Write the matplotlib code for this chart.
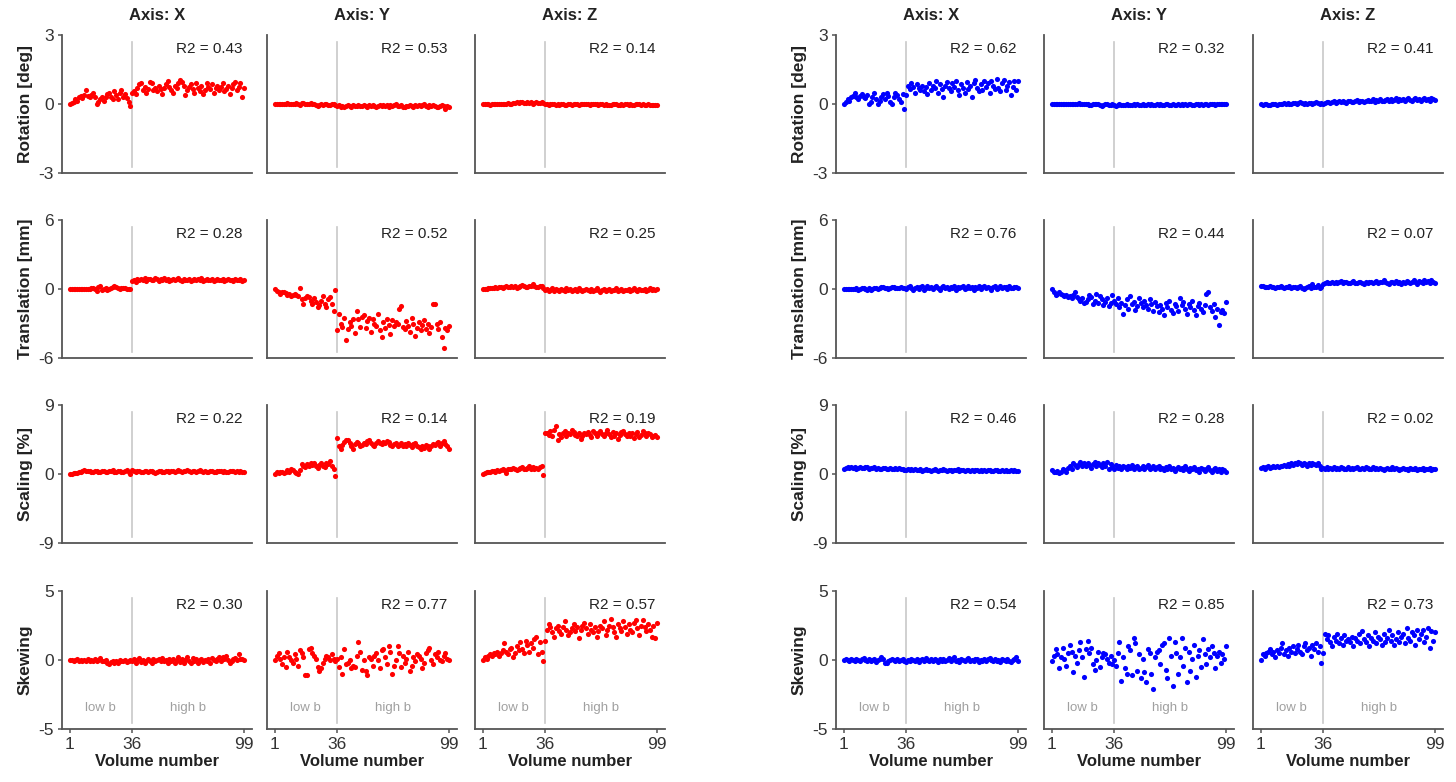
import numpy as np
import matplotlib
matplotlib.use("Agg")
import matplotlib.pyplot as plt

plt.rcParams['font.family'] = ['Liberation Sans', 'DejaVu Sans']

# ---------------------------------------------------------------
# Data: one list per panel, volumes 1..99 (low b = 1..35, high b = 36..99)
# ---------------------------------------------------------------
axis_names = ['X', 'Y', 'Z']
row_labels = ['Rotation [deg]', 'Translation [mm]', 'Scaling [%]', 'Skewing']
row_limits = [3, 6, 9, 5]
split_vol = 36

red_r2 = [[0.43, 0.53, 0.14], [0.28, 0.52, 0.25], [0.22, 0.14, 0.19], [0.30, 0.77, 0.57]]
blue_r2 = [[0.62, 0.32, 0.41], [0.76, 0.44, 0.07], [0.46, 0.28, 0.02], [0.54, 0.85, 0.73]]

# ---- red (left) ----
red_rot_x = [0.0, 0.05, 0.1, 0.2, 0.15, 0.3, 0.35, 0.25, 0.4, 0.6,
             0.35, 0.3, 0.4, 0.5, 0.3, 0.0, 0.1, 0.2, 0.3, 0.15,
             0.3, 0.45, 0.5, 0.3, 0.2, 0.55, 0.4, 0.2, 0.5, 0.6,
             0.3, 0.45, 0.25, 0.1, -0.1, 0.5, 0.55, 0.45, 0.7, 0.85,
             0.9, 0.6, 0.75, 0.5, 0.65, 0.95, 0.9, 0.6, 0.7, 0.55,
             0.8, 0.65, 0.45, 0.7, 0.85, 1.0, 0.75, 0.6, 0.5, 0.8,
             0.7, 0.9, 1.05, 0.95, 0.8, 0.4, 0.6, 0.75, 0.85, 0.65,
             0.5, 0.9, 0.7, 0.55, 0.8, 0.45, 0.6, 0.9, 0.75, 0.65,
             0.85, 0.5, 0.7, 0.8, 0.6, 0.75, 0.9, 0.55, 0.65, 0.8,
             0.45, 0.7, 0.85, 0.95, 0.6, 0.75, 0.9, 0.3, 0.7]
red_rot_y = [0.0, 0.0, 0.0, 0.02, 0.0, -0.02, 0.0, 0.03, 0.0, -0.02,
             0.0, 0.02, 0.05, 0.0, -0.03, 0.03, 0.05, 0.02, 0.0, -0.02,
             0.04, 0.02, -0.02, -0.05, -0.08, -0.04, -0.02, -0.03, 0.0, -0.02,
             -0.04, -0.03, -0.02, 0.0, -0.05, -0.1, -0.05, -0.15, -0.08, -0.12,
             -0.1, -0.05, -0.08, -0.12, -0.06, -0.1, -0.08, -0.05, -0.1, -0.07,
             -0.04, -0.08, -0.12, -0.06, -0.1, -0.05, -0.08, -0.13, -0.07, -0.05,
             -0.1, -0.03, -0.08, -0.06, -0.12, -0.04, -0.09, -0.05, 0.0, -0.08,
             -0.1, -0.06, -0.12, -0.14, -0.08, -0.1, -0.05, -0.09, -0.12, -0.06,
             -0.08, -0.04, -0.1, -0.06, 0.0, -0.08, -0.12, -0.06, -0.1, -0.03,
             -0.08, -0.12, -0.15, -0.1, -0.05, -0.08, -0.2, -0.1, -0.12]
red_rot_z = [0.0, 0.0, -0.02, 0.0, -0.03, 0.0, -0.02, 0.0, 0.02, -0.02,
             0.0, -0.02, 0.02, 0.0, 0.03, 0.0, 0.02, 0.05, 0.03, 0.08,
             0.05, 0.1, 0.08, 0.05, 0.03, 0.07, 0.05, 0.08, 0.02, 0.05,
             0.08, 0.03, 0.05, 0.1, 0.05, 0.0, -0.02, -0.03, -0.02, 0.0,
             -0.02, -0.04, -0.02, -0.03, 0.0, -0.02, -0.04, -0.03, -0.02, 0.0,
             -0.03, -0.02, 0.0, -0.02, -0.04, -0.02, 0.0, 0.02, -0.02, 0.0,
             -0.03, -0.02, 0.0, 0.02, -0.02, -0.04, -0.02, 0.0, -0.03, -0.02,
             -0.05, -0.06, -0.03, -0.02, 0.0, -0.02, -0.04, -0.05, -0.02, -0.03,
             0.0, -0.02, -0.04, -0.02, -0.05, -0.03, -0.02, 0.0, -0.02, -0.04,
             -0.02, -0.05, -0.03, -0.02, -0.04, -0.06, -0.03, -0.05, -0.06]
red_trans_x = [0.0, 0.0, 0.02, 0.0, -0.02, 0.0, 0.0, 0.02, 0.0, 0.0,
               -0.02, 0.0, 0.05, 0.1, 0.0, -0.2, 0.15, 0.25, -0.1, 0.0,
               0.05, -0.05, 0.0, 0.1, 0.2, 0.3, 0.15, 0.1, 0.0, 0.05,
               0.1, 0.05, 0.0, 0.02, 0.0, 0.7, 0.8, 0.6, 0.9, 0.75,
               0.85, 0.8, 0.95, 0.7, 0.85, 0.9, 0.75, 0.8, 1.0, 0.85,
               0.7, 0.9, 0.8, 0.95, 0.75, 0.85, 0.7, 0.8, 0.9, 0.75,
               0.85, 1.0, 0.8, 0.7, 0.9, 0.8, 0.75, 0.85, 0.7, 0.8,
               0.9, 0.75, 0.85, 0.8, 0.95, 0.7, 0.8, 0.9, 0.75, 0.8,
               0.85, 0.7, 0.8, 0.9, 0.75, 0.8, 0.85, 0.7, 0.8, 0.9,
               0.75, 0.8, 0.7, 0.85, 0.8, 0.75, 0.9, 0.7, 0.75]
red_trans_y = [0.0, -0.2, -0.3, -0.4, -0.3, -0.3, -0.35, -0.5, -0.4, -0.6,
               -0.55, -0.45, -0.5, -0.6, 0.05, -0.9, -1.3, -0.75, -0.6, -0.7,
               -1.0, -1.3, -0.8, -1.1, -1.6, -1.4, -1.0, -0.6, -1.3, -1.6,
               -0.9, -0.7, -1.3, -1.9, -0.1, -3.6, -2.2, -3.0, -3.3, -2.5,
               -4.4, -3.5, -2.9, -3.2, -2.6, -3.8, -1.9, -2.6, -3.3, -2.4,
               -2.3, -3.4, -2.8, -2.5, -3.7, -2.6, -3.0, -3.2, -2.2, -3.6,
               -4.2, -2.9, -3.4, -2.6, -3.1, -3.9, -2.7, -3.2, -2.9, -3.0,
               -1.7, -1.5, -3.3, -3.5, -2.8, -3.2, -3.7, -2.5, -3.0, -4.1,
               -3.4, -2.9, -3.6, -3.1, -2.7, -3.5, -3.0, -3.8, -3.3, -1.3,
               -1.3, -3.0, -3.5, -2.9, -4.2, -5.1, -3.4, -3.6, -3.2]
red_trans_z = [0.0, 0.02, 0.0, 0.05, 0.1, 0.05, 0.1, 0.15, 0.1, 0.2,
               0.15, 0.1, 0.2, 0.25, 0.15, 0.2, 0.3, 0.2, 0.25, 0.1,
               0.2, 0.3, 0.35, 0.25, 0.2, 0.15, 0.3, 0.25, 0.4, 0.3,
               0.2, 0.15, 0.3, 0.25, 0.1, -0.1, 0.0, -0.2, -0.1, 0.05,
               -0.15, 0.0, -0.1, -0.2, 0.0, -0.05, -0.15, 0.1, -0.1, 0.0,
               -0.2, -0.1, 0.0, -0.15, 0.05, -0.1, -0.2, -0.05, 0.0, -0.1,
               -0.15, 0.0, -0.2, -0.1, 0.05, -0.1, -0.25, -0.05, 0.0, -0.15,
               -0.1, 0.0, -0.2, -0.05, -0.1, 0.05, -0.15, -0.1, 0.0, -0.2,
               -0.05, -0.1, 0.0, -0.15, -0.1, 0.05, -0.1, -0.2, 0.0, -0.05,
               -0.1, 0.0, -0.15, -0.05, 0.1, -0.1, 0.0, -0.05, 0.0]
red_scal_x = [0.0, 0.05, 0.1, 0.15, 0.1, 0.2, 0.3, 0.4, 0.5, 0.45,
              0.4, 0.35, 0.3, 0.2, 0.35, 0.4, 0.3, 0.25, 0.35, 0.4,
              0.3, 0.2, 0.35, 0.4, 0.5, 0.3, 0.2, 0.35, 0.4, 0.3,
              0.2, 0.45, 0.5, 0.3, 0.0, 0.5, 0.35, 0.3, 0.4, 0.45,
              0.3, 0.2, 0.4, 0.35, 0.3, 0.45, 0.4, 0.3, 0.1, 0.3,
              0.35, 0.4, 0.3, 0.25, 0.4, 0.35, 0.3, 0.45, 0.4, 0.3,
              0.35, 0.5, 0.4, 0.3, 0.35, 0.45, 0.55, 0.4, 0.3, 0.35,
              0.4, 0.3, 0.45, 0.5, 0.35, 0.3, 0.4, 0.25, 0.3, 0.35,
              0.4, 0.3, 0.2, 0.35, 0.45, 0.4, 0.3, 0.35, 0.25, 0.3,
              0.4, 0.45, 0.35, 0.3, 0.4, 0.3, 0.35, 0.3, 0.2]
red_scal_y = [0.0, 0.2, 0.1, 0.3, 0.2, 0.1, 0.3, 0.5, 0.3, 0.6,
              0.5, 0.3, 0.1, 0.0, 0.5, 1.3, 1.0, 0.9, 1.3, 1.1,
              1.5, 1.2, 1.4, 1.0, 0.8, 1.2, 1.4, 1.1, 0.9, 1.5,
              1.3, 1.7, 1.0, 0.6, -0.2, 4.7, 3.6, 3.3, 3.8, 4.2,
              4.4, 4.5, 4.1, 3.7, 3.3, 3.9, 4.2, 4.0, 3.6, 3.8,
              4.1, 3.9, 4.3, 4.5, 4.0, 3.8, 3.7, 4.1, 4.3, 4.0,
              3.9, 4.2, 4.0, 4.3, 4.2, 3.8, 3.6, 3.9, 4.0, 3.7,
              3.8, 4.0, 3.6, 3.9, 3.7, 4.0, 3.8, 3.5, 3.9, 4.1,
              3.7, 3.5, 3.2, 3.6, 3.4, 3.8, 3.6, 3.3, 3.7, 3.9,
              3.8, 4.0, 4.2, 3.7, 4.1, 4.3, 3.9, 3.6, 3.3]
red_scal_z = [0.0, 0.1, 0.2, 0.3, 0.3, 0.4, 0.4, 0.3, 0.5, 0.4,
              0.5, 0.6, 0.5, 0.1, 0.6, 0.7, 0.6, 0.8, 0.6, 0.5,
              0.7, 0.8, 0.9, 0.7, 0.6, 0.8, 1.0, 0.7, 0.9, 0.6,
              0.8, 0.7, 0.9, 1.0, -0.1, 5.3, 5.4, 5.1, 5.6, 5.0,
              5.8, 6.2, 4.5, 5.2, 4.8, 5.3, 5.6, 5.0, 5.4, 5.2,
              5.7, 5.5, 5.1, 4.9, 5.3, 4.6, 5.0, 5.4, 5.2, 5.5,
              5.1, 4.8, 5.6, 5.3, 5.0, 5.4, 5.6, 5.2, 4.9, 5.3,
              5.7, 5.2, 4.8, 5.5, 5.0, 5.3, 4.6, 5.1, 5.5, 5.6,
              5.2, 4.9, 5.4, 5.0, 5.3, 4.7, 5.2, 5.5, 4.8, 5.1,
              5.6, 5.3, 4.9, 5.4, 5.2, 4.8, 5.0, 5.1, 4.8]
red_skew_x = [0.0, 0.0, -0.05, 0.0, 0.05, -0.05, 0.0, -0.1, 0.0, -0.05,
              0.1, -0.1, 0.0, -0.05, 0.05, -0.1, 0.0, 0.15, -0.05, -0.1,
              0.0, -0.2, -0.3, -0.15, -0.05, -0.2, -0.1, -0.25, 0.0, -0.1,
              -0.05, 0.0, -0.15, -0.05, 0.0, -0.1, 0.05, -0.2, 0.0, 0.15,
              -0.15, 0.0, -0.25, -0.1, 0.05, -0.05, -0.2, 0.1, -0.1, 0.0,
              0.05, -0.1, 0.15, -0.05, 0.0, -0.2, 0.1, -0.1, 0.05, -0.25,
              0.0, 0.2, -0.15, 0.1, -0.2, 0.0, 0.25, -0.05, -0.2, 0.15,
              -0.1, 0.05, -0.25, 0.0, 0.1, -0.15, 0.0, -0.05, 0.1, -0.2,
              0.15, 0.0, -0.1, 0.05, 0.2, -0.05, 0.25, 0.1, 0.3, 0.0,
              -0.2, -0.1, 0.05, 0.15, 0.0, 0.4, 0.1, 0.05, 0.0]
red_skew_y = [0.0, 0.3, 0.5, 0.1, -0.3, 0.2, -0.5, 0.6, 0.2, 0.0,
              -0.2, 0.4, 0.1, -0.4, 0.7, 0.5, 0.2, -1.1, -1.1, 0.8,
              0.9, 0.5, 0.3, 0.1, -0.5, -0.8, -0.6, -0.2, 0.1, 0.3,
              0.2, 0.0, 0.4, 0.1, -0.1, 0.1, -0.5, 0.2, -1.0, 0.8,
              -0.3, -0.2, 0.0, -0.6, -0.4, -0.5, 0.3, 1.3, 0.6, -0.7,
              0.0, -0.8, -1.1, 0.2, 0.1, -0.4, 0.3, 0.5, 0.0, -0.6,
              0.7, 0.8, 0.2, -0.3, 1.0, 0.6, -1.0, -0.4, 0.0, 1.0,
              0.5, -0.5, 0.3, -0.2, 0.1, 0.6, -0.8, -0.4, 0.2, -0.1,
              0.4, 0.3, 0.1, -0.6, -0.2, 0.5, 0.7, 0.9, 0.0, -0.3,
              0.4, 0.2, 0.6, 0.0, -0.1, 0.3, 0.5, 0.1, 0.0]
red_skew_z = [0.0, 0.2, 0.1, 0.3, 0.4, 0.3, 0.5, 0.4, 0.6, 0.3,
              0.5, 0.7, 1.2, 0.6, 0.4, 0.8, 0.9, 0.2, 0.5, 1.0,
              0.7, 1.3, 0.8, 0.5, 1.4, 1.1, 0.6, 1.2, 0.9, 1.5,
              1.7, 0.4, 1.3, 0.6, -0.1, 1.4, 2.2, 2.6, 2.4, 2.0,
              1.7, 2.3, 2.5, 2.1, 1.9, 2.4, 2.8, 2.2, 1.8, 2.0,
              2.3, 2.6, 2.1, 2.4, 1.6, 2.2, 2.5, 2.7, 2.3, 1.9,
              2.6, 2.2, 2.0, 2.4, 1.7, 2.1, 2.5, 2.3, 2.8, 1.8,
              2.2, 2.5, 3.0, 2.4, 2.0, 1.7, 2.6, 2.3, 2.1, 2.8,
              2.4, 1.9, 2.6, 2.2, 2.0, 2.7, 2.9, 2.3, 1.8, 2.5,
              2.9, 2.4, 2.1, 2.6, 2.2, 1.7, 2.5, 1.6, 2.7]

# ---- blue (right) ----
blue_rot_x = [0.0, 0.1, 0.2, 0.15, 0.3, 0.35, 0.5, 0.3, 0.2, 0.35,
              0.45, 0.3, 0.25, 0.4, 0.0, 0.1, 0.3, 0.5, 0.2, 0.0,
              0.15, 0.3, 0.45, 0.2, 0.5, 0.35, 0.1, 0.0, 0.3, 0.5,
              0.4, 0.2, 0.1, 0.45, -0.2, 0.4, 0.8, 0.65, 0.9, 0.75,
              0.5, 0.85, 0.7, 0.6, 0.8, 0.55, 0.75, 0.45, 0.9, 0.6,
              0.8, 0.7, 1.0, 0.5, 0.85, 0.65, 0.3, 0.8, 0.95, 0.7,
              0.55, 0.9, 0.75, 1.0, 0.6, 0.4, 0.85, 0.7, 0.5, 0.95,
              0.65, 0.8, 0.3, 0.9, 1.05, 0.7, 0.55, 0.85, 0.6, 1.0,
              0.75, 0.9, 0.5, 1.0, 0.8, 0.65, 1.1, 0.7, 0.55, 0.9,
              1.05, 0.6, 0.8, 0.95, 0.4, 0.75, 1.0, 0.6, 1.0]
blue_rot_y = [0.0, 0.0, 0.02, 0.0, -0.02, 0.0, 0.02, 0.0, -0.02, 0.0,
              0.02, 0.0, -0.02, 0.0, 0.02, 0.03, 0.0, -0.02, 0.0, 0.02,
              0.0, -0.03, -0.05, -0.02, 0.0, 0.02, -0.02, -0.05, -0.08, -0.05,
              -0.02, 0.0, -0.03, -0.05, -0.02, -0.05, -0.08, -0.04, -0.02, -0.06,
              -0.03, -0.05, -0.02, -0.04, -0.06, -0.03, 0.0, -0.04, -0.02, -0.05,
              -0.03, -0.01, -0.04, -0.06, -0.02, -0.04, 0.0, -0.03, -0.05, -0.02,
              -0.04, -0.01, -0.03, -0.05, -0.02, 0.0, -0.03, -0.04, -0.01, -0.03,
              -0.05, -0.02, -0.04, 0.0, -0.03, -0.01, -0.04, -0.02, 0.0, -0.03,
              -0.05, -0.02, 0.0, -0.03, -0.01, -0.04, -0.02, 0.0, -0.03, -0.01,
              -0.02, 0.0, -0.03, -0.01, -0.02, 0.0, 0.02, -0.01, 0.0]
blue_rot_z = [0.0, -0.05, -0.02, 0.0, -0.05, -0.03, 0.0, -0.02, 0.02, -0.03,
              0.0, 0.02, -0.02, 0.03, 0.0, 0.05, 0.02, 0.0, 0.05, 0.03,
              0.0, 0.05, 0.08, 0.03, 0.0, 0.05, 0.02, 0.06, 0.03, 0.0,
              0.05, 0.08, 0.05, 0.02, 0.05, 0.0, 0.05, 0.08, 0.1, 0.05,
              0.08, 0.12, 0.06, 0.1, 0.15, 0.08, 0.12, 0.1, 0.05, 0.12,
              0.15, 0.1, 0.08, 0.13, 0.18, 0.1, 0.15, 0.12, 0.08, 0.14,
              0.18, 0.12, 0.15, 0.2, 0.1, 0.16, 0.13, 0.2, 0.15, 0.12,
              0.18, 0.22, 0.15, 0.2, 0.12, 0.18, 0.25, 0.15, 0.2, 0.17,
              0.22, 0.15, 0.2, 0.25, 0.18, 0.13, 0.2, 0.24, 0.17, 0.22,
              0.15, 0.2, 0.26, 0.18, 0.22, 0.15, 0.25, 0.2, 0.18]
blue_trans_x = [0.0, 0.02, 0.0, -0.02, 0.0, 0.02, 0.0, 0.05, -0.05, 0.0,
                0.05, 0.1, 0.0, -0.05, 0.05, -0.1, 0.0, 0.05, 0.1, 0.0,
                0.05, 0.15, 0.2, 0.1, 0.05, 0.0, 0.1, 0.15, 0.2, 0.1,
                0.05, 0.1, 0.15, 0.05, 0.1, 0.0, 0.15, 0.25, 0.05, -0.1,
                0.1, 0.2, 0.0, 0.15, 0.25, -0.05, 0.1, 0.3, 0.05, 0.2,
                0.0, 0.15, 0.25, 0.1, -0.05, 0.2, 0.3, 0.05, 0.15, 0.0,
                0.2, 0.1, 0.25, -0.1, 0.15, 0.05, 0.2, 0.3, 0.0, 0.1,
                0.25, 0.05, 0.15, -0.05, 0.2, 0.1, 0.3, 0.0, 0.15, 0.25,
                0.05, 0.2, 0.1, -0.05, 0.15, 0.25, 0.0, 0.1, 0.3, 0.05,
                0.15, 0.2, 0.0, 0.25, 0.1, 0.05, 0.2, 0.15, 0.05]
blue_trans_y = [0.0, -0.3, -0.5, -0.4, -0.3, -0.4, -0.5, -0.6, -0.5, -0.7,
                -0.6, -0.8, -0.5, -0.3, -0.7, -0.9, -1.0, -0.8, -1.2, -1.1,
                -0.9, -0.5, -0.7, -1.3, -1.0, -0.4, -1.2, -0.6, -0.9, -1.4,
                -1.1, -0.8, -1.5, -1.2, -0.5, -1.0, -1.3, -0.8, -1.6, -1.2,
                -2.2, -1.4, -0.9, -1.7, -0.6, -1.3, -1.1, -1.8, -1.5, -0.8,
                -1.2, -1.6, -1.0, -1.4, -1.7, -0.9, -1.3, -1.9, -1.1, -1.5,
                -2.0, -1.4, -1.7, -2.3, -1.2, -1.6, -1.0, -1.8, -2.1, -1.3,
                -1.5, -1.9, -0.8, -1.4, -1.1, -1.7, -2.2, -1.3, -1.6, -1.0,
                -1.8, -2.3, -1.5, -1.2, -1.7, -2.0, -1.4, -0.4, -0.3, -1.6,
                -1.9, -1.3, -2.4, -1.7, -3.1, -2.0, -1.8, -2.1, -1.1]
blue_trans_z = [0.3, 0.25, 0.2, 0.15, 0.2, 0.25, 0.15, 0.2, 0.1, 0.2,
                0.15, 0.25, 0.2, 0.1, 0.15, 0.2, 0.25, 0.1, 0.15, 0.2,
                0.05, 0.15, 0.25, 0.1, 0.0, 0.1, 0.2, 0.3, 0.1, 0.4,
                0.2, 0.15, 0.35, 0.05, 0.2, 0.45, 0.5, 0.6, 0.55, 0.5,
                0.6, 0.55, 0.65, 0.5, 0.6, 0.7, 0.55, 0.6, 0.65, 0.5,
                0.55, 0.6, 0.7, 0.55, 0.5, 0.6, 0.65, 0.55, 0.45, 0.6,
                0.55, 0.65, 0.6, 0.5, 0.6, 0.7, 0.55, 0.6, 0.65, 0.75,
                0.6, 0.55, 0.4, 0.65, 0.6, 0.55, 0.7, 0.5, 0.6, 0.45,
                0.65, 0.55, 0.7, 0.6, 0.5, 0.65, 0.75, 0.6, 0.45, 0.7,
                0.65, 0.55, 0.75, 0.6, 0.7, 0.5, 0.8, 0.65, 0.55]
blue_scal_x = [0.7, 0.8, 0.9, 0.75, 0.85, 0.8, 0.9, 0.7, 0.8, 0.85,
               0.75, 0.8, 0.9, 0.85, 0.7, 0.8, 0.75, 0.85, 0.7, 0.8,
               0.6, 0.7, 0.8, 0.75, 0.65, 0.7, 0.8, 0.6, 0.7, 0.75,
               0.65, 0.8, 0.7, 0.6, 0.5, 0.55, 0.6, 0.5, 0.65, 0.55,
               0.6, 0.5, 0.55, 0.6, 0.45, 0.55, 0.6, 0.5, 0.55, 0.45,
               0.5, 0.6, 0.55, 0.45, 0.5, 0.55, 0.6, 0.5, 0.45, 0.55,
               0.5, 0.45, 0.55, 0.5, 0.6, 0.45, 0.5, 0.55, 0.45, 0.5,
               0.55, 0.45, 0.5, 0.4, 0.5, 0.55, 0.45, 0.5, 0.4, 0.5,
               0.45, 0.55, 0.5, 0.4, 0.45, 0.5, 0.55, 0.45, 0.4, 0.5,
               0.45, 0.5, 0.4, 0.45, 0.55, 0.45, 0.5, 0.4, 0.45]
blue_scal_y = [0.5, 0.3, 0.2, 0.4, 0.1, 0.3, 0.6, 0.5, 0.3, 0.8,
               1.0, 0.6, 1.5, 1.2, 0.9, 1.3, 1.6, 1.1, 1.4, 1.0,
               1.5, 1.2, 0.8, 1.3, 1.6, 1.0, 1.4, 1.2, 0.9, 1.5,
               1.1, 1.6, 0.7, 1.3, 0.9, 0.6, 1.2, 0.8, 1.0, 0.7,
               1.1, 0.9, 0.6, 1.0, 0.8, 1.2, 0.7, 0.9, 1.1, 0.6,
               0.8, 1.0, 0.7, 0.9, 1.2, 0.6, 0.8, 1.0, 0.7, 0.9,
               1.1, 0.6, 0.8, 0.5, 0.9, 0.7, 1.0, 0.6, 0.8, 0.4,
               0.7, 0.9, 0.6, 0.8, 0.5, 1.0, 0.7, 0.4, 0.8, 0.6,
               0.9, 0.5, 0.7, 0.3, 0.8, 0.6, 0.4, 0.7, 0.9, 0.5,
               0.3, 0.6, 0.8, 0.4, 0.7, 0.2, 0.6, 0.5, 0.3]
blue_scal_z = [0.8, 0.9, 0.7, 0.9, 1.0, 0.8, 0.9, 1.1, 0.9, 1.0,
               0.9, 1.1, 1.0, 1.2, 1.0, 1.3, 1.1, 1.4, 1.2, 1.5,
               1.3, 1.6, 1.4, 1.2, 1.5, 1.3, 1.1, 1.4, 1.2, 1.5,
               1.3, 1.2, 1.4, 1.1, 0.7, 0.8, 0.6, 0.9, 0.7, 0.8,
               0.7, 0.9, 0.6, 0.8, 0.7, 0.9, 0.8, 0.6, 0.7, 0.9,
               0.7, 0.8, 0.6, 0.8, 0.9, 0.7, 0.6, 0.8, 0.7, 0.9,
               0.8, 0.6, 0.7, 0.9, 0.7, 0.8, 0.6, 0.8, 0.7, 0.5,
               0.7, 0.8, 0.6, 0.7, 0.9, 0.6, 0.8, 0.7, 0.5, 0.7,
               0.8, 0.6, 0.7, 0.5, 0.8, 0.7, 0.6, 0.8, 0.5, 0.7,
               0.6, 0.8, 0.5, 0.7, 0.6, 0.8, 0.5, 0.7, 0.6]
blue_skew_x = [0.0, 0.05, 0.0, -0.05, 0.1, 0.0, -0.05, 0.05, 0.0, -0.1,
               0.05, 0.15, 0.0, -0.05, 0.1, -0.1, 0.0, 0.05, -0.15, 0.0,
               0.1, 0.2, 0.05, -0.2, -0.25, -0.1, 0.0, 0.1, 0.0, -0.05,
               0.05, -0.1, 0.0, 0.05, -0.05, -0.15, 0.0, -0.1, 0.05, 0.0,
               -0.1, 0.05, -0.15, 0.0, 0.1, -0.05, 0.15, 0.0, -0.1, 0.05,
               -0.05, 0.1, 0.0, -0.15, 0.05, -0.1, 0.1, -0.05, 0.0, 0.15,
               -0.1, 0.05, 0.2, -0.05, 0.0, -0.15, 0.1, 0.0, -0.1, 0.05,
               0.15, -0.05, 0.0, -0.1, 0.05, 0.1, -0.15, 0.0, -0.05, 0.1,
               -0.1, 0.05, 0.15, 0.0, -0.1, 0.1, -0.05, 0.0, -0.15, 0.05,
               0.0, -0.1, 0.05, -0.05, -0.15, 0.0, 0.05, 0.2, -0.05]
blue_skew_y = [-0.1, 0.3, 0.8, 0.4, -0.6, 0.2, 0.9, 0.1, -0.4, 0.5,
               1.1, 0.6, -0.9, 0.3, -0.2, 0.7, 1.3, 0.2, -1.2, 0.8,
               1.4, 0.5, 0.9, -0.3, -0.7, 0.0, 0.6, -0.5, 0.2, 0.5,
               0.4, 0.1, -0.2, 0.3, -0.3, 0.0, -0.4, 0.5, 1.3, -1.5,
               0.2, -0.6, -1.0, 1.0, 0.7, -1.1, 1.6, 1.2, -0.8, 0.4,
               -1.3, 0.1, -0.9, -1.6, 0.8, 0.5, -1.0, -2.1, 0.2, 0.6,
               0.7, -0.3, 1.1, 1.2, -0.7, -1.3, 1.6, 0.3, -1.9, 1.3,
               0.5, -1.0, 0.2, 1.6, -0.4, 0.9, -1.6, 0.6, -0.8, 0.1,
               1.1, -1.2, 0.3, 0.7, -0.5, 1.5, 0.4, -0.3, 0.8, 0.2,
               1.0, 0.5, -0.6, 0.3, 0.6, -0.2, 0.4, 0.1, 1.0]
blue_skew_z = [0.0, 0.4, 0.3, 0.5, 0.6, 0.8, 0.4, 0.6, 0.2, 0.7,
               0.5, 0.9, 1.2, 0.4, 0.7, 0.3, 0.9, 0.6, 1.0, 0.5,
               0.8, 1.1, 0.6, 0.4, 1.0, 1.2, 0.7, 0.9, 0.3, 1.1,
               0.8, 1.2, 0.6, 1.0, -0.2, 0.5, 1.9, 1.5, 1.8, 1.3,
               1.0, 1.7, 1.4, 1.9, 1.2, 1.6, 1.1, 1.8, 1.4, 1.5,
               1.3, 1.7, 1.0, 1.6, 1.4, 1.9, 1.2, 2.1, 1.5, 1.3,
               1.8, 1.0, 1.6, 1.4, 2.0, 1.2, 1.7, 1.5, 1.1, 1.9,
               1.3, 1.6, 2.2, 1.4, 1.8, 1.1, 1.5, 2.0, 1.3, 1.7,
               1.9, 1.2, 2.3, 1.6, 1.4, 2.0, 1.8, 1.1, 2.2, 1.5,
               1.9, 2.2, 1.3, 1.7, 2.3, 0.9, 2.1, 1.4, 2.0]

red_data = [[red_rot_x, red_rot_y, red_rot_z],
            [red_trans_x, red_trans_y, red_trans_z],
            [red_scal_x, red_scal_y, red_scal_z],
            [red_skew_x, red_skew_y, red_skew_z]]
blue_data = [[blue_rot_x, blue_rot_y, blue_rot_z],
             [blue_trans_x, blue_trans_y, blue_trans_z],
             [blue_scal_x, blue_scal_y, blue_scal_z],
             [blue_skew_x, blue_skew_y, blue_skew_z]]

# ---------------------------------------------------------------
# Layout (pixel positions of the panels in a 1456x782 figure)
# ---------------------------------------------------------------
W, H = 1456, 782
group_cols = {'red': [62, 267, 475], 'blue': [836, 1044, 1253]}
row_tops = [35, 220, 405, 591]
pw, ph = 190, 138
axis_gray = '#555555'
text_gray = '#333333'

fig = plt.figure(figsize=(W / 100, H / 100), dpi=100)


def draw_group(cols, data, r2, color):
    for r in range(4):
        lim = row_limits[r]
        for c in range(3):
            left = cols[c] / W
            bottom = 1 - (row_tops[r] + ph) / H
            ax = fig.add_axes([left, bottom, pw / W, ph / H])
            vals = np.array(data[r][c])
            vols = np.arange(1, len(vals) + 1)
            ax.axvline(split_vol, ymin=0.04, ymax=0.95, color='#c8c8c8', lw=1.2, zorder=1)
            ax.plot(vols, vals, 'o', color=color, ms=3.7, mec='none', zorder=3)
            ax.set_xlim(-3.5, 103.5)
            ax.set_ylim(-lim, lim)
            for s in ['top', 'right']:
                ax.spines[s].set_visible(False)
            for s in ['left', 'bottom']:
                ax.spines[s].set_color(axis_gray)
                ax.spines[s].set_linewidth(1.3)
            ax.tick_params(colors=axis_gray, labelcolor=text_gray, labelsize=12.5,
                           direction='out', length=3, width=1.1, pad=3)
            ax.text(0.95, 0.9, 'R2 = %.2f' % r2[r][c], transform=ax.transAxes,
                    ha='right', va='center', fontsize=11, color='#222222')
            if c == 0:
                ax.set_yticks([-lim, 0, lim])
                ax.set_yticklabels([str(-lim), '0', str(lim)])
                ax.set_ylabel(row_labels[r], fontsize=12.5, fontweight='bold',
                              color='#222222', labelpad=4)
            else:
                ax.set_yticks([])
            if r == 3:
                ax.set_xticks([1, split_vol, 99])
                ax.set_xlabel('Volume number', fontsize=12, fontweight='bold',
                              color='#222222', labelpad=1)
                ax.text(18, -lim * 0.7, 'low b', ha='center', va='center',
                        fontsize=9.5, color='#a0a0a0')
                ax.text(67.5, -lim * 0.7, 'high b', ha='center', va='center',
                        fontsize=9.5, color='#a0a0a0')
            else:
                ax.set_xticks([])
            if r == 0:
                ax.set_title('Axis: ' + axis_names[c], fontsize=12,
                             fontweight='bold', color='#222222', pad=11)


draw_group(group_cols['red'], red_data, red_r2, (1, 0, 0))
draw_group(group_cols['blue'], blue_data, blue_r2, (0, 0, 1))

fig.savefig('out.png', dpi=100)
